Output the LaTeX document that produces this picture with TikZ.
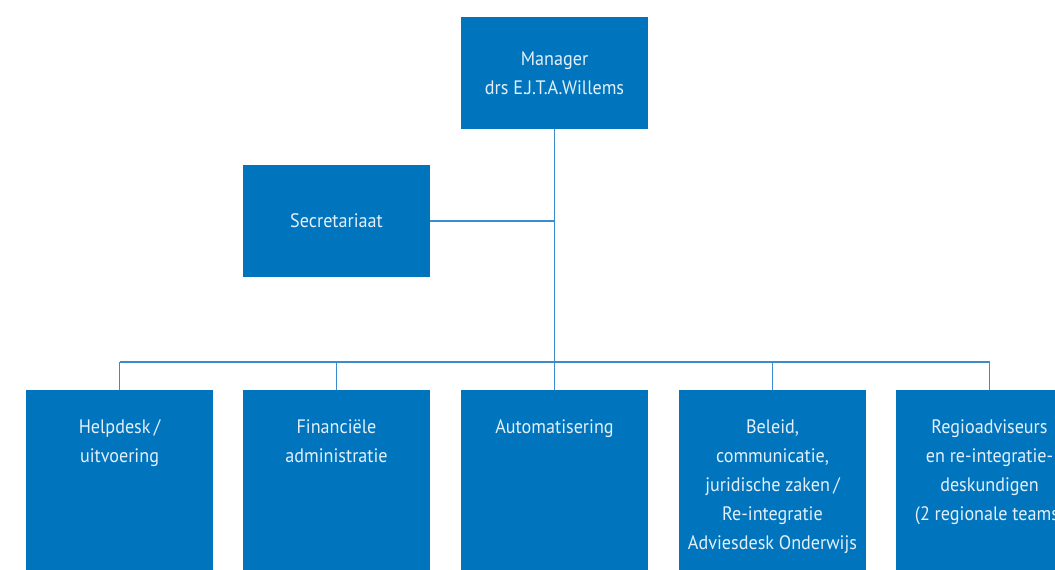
\documentclass[tikz,border=0pt]{standalone}
\usepackage{fontspec}
\setmainfont[FakeStretch=0.93]{PT Sans}
\definecolor{boxblue}{RGB}{0,117,190}
\definecolor{lineblue}{RGB}{58,140,205}
\definecolor{boxtext}{RGB}{228,239,248}
\begin{document}
\begin{tikzpicture}[x=1pt,y=-1pt,
  orgbox/.style={fill=boxblue,draw=none,minimum width=187pt,minimum height=112pt,inner sep=0pt,
    text=boxtext,align=center,font=\fontsize{19.5}{29}\selectfont},
  lowbox/.style={fill=boxblue,draw=none,minimum width=187pt,minimum height=190pt,inner sep=0pt,anchor=north},
  lowtext/.style={anchor=north,inner sep=0pt,text=boxtext,align=center,font=\fontsize{19.5}{29}\selectfont},
  conn/.style={draw=lineblue,line width=1.8pt}]
\useasboundingbox (0,0) rectangle (1055,570);
\clip (0,0) rectangle (1055,570);
\node[orgbox] (mgr) at (554.5,73) {Manager\\drs E.J.T.A.Willems};
\node[orgbox] (sec) at (336.5,221) {Secretariaat};
\node[lowbox] (b1) at (119.5,390) {};
\node[lowbox] (b2) at (336.5,390) {};
\node[lowbox] (b3) at (554.5,390) {};
\node[lowbox] (b4) at (772.5,390) {};
\node[lowbox] (b5) at (989.5,390) {};
\coordinate (bus1) at (119.5,362);
\coordinate (bus5) at (989.5,362);
\coordinate (secj) at (554.5,221);
\draw[conn] (mgr.south) -- (b3.north);
\draw[conn] (sec.east) -- (secj);
\draw[conn] (bus1) -- (bus5);
\draw[conn] (bus1) -- (b1.north);
\draw[conn] (b2.north |- bus1) -- (b2.north);
\draw[conn] (b4.north |- bus1) -- (b4.north);
\draw[conn] (bus5) -- (b5.north);
\node[lowtext] (t1) at ([yshift=-29pt]b1.north) {Helpdesk\,/\\uitvoering};
\node[lowtext] (t2) at ([yshift=-29pt]b2.north) {Financiële\\administratie};
\node[lowtext] (t3) at ([yshift=-29pt]b3.north) {Automatisering};
\node[lowtext] (t4) at ([yshift=-29pt]b4.north) {Beleid,\\communicatie,\\juridische zaken\,/\\Re-integratie\\Adviesdesk Onderwijs};
\node[lowtext] (t5) at ([yshift=-29pt]b5.north) {Regioadviseurs\\en re-integratie-\\deskundigen\\(2 regionale teams)};
\end{tikzpicture}
\end{document}
